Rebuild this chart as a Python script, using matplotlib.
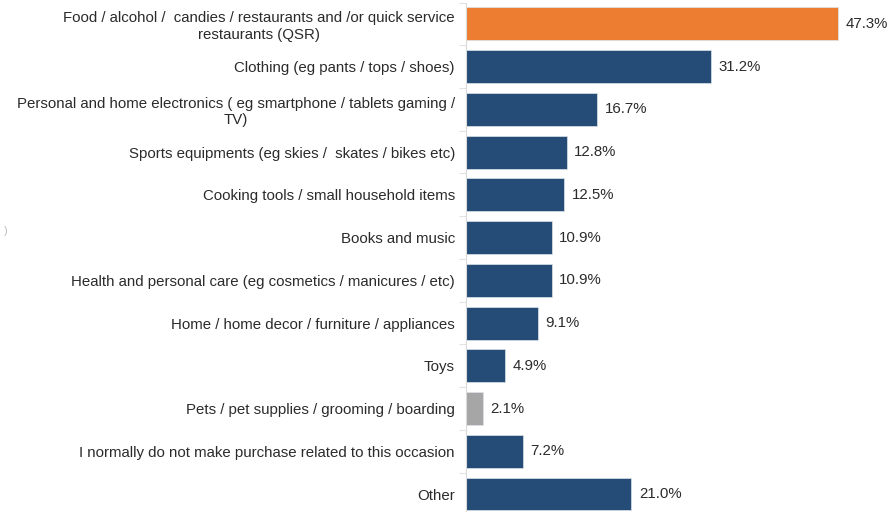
import numpy as np
import matplotlib.pyplot as plt

plt.rcParams['font.family'] = ['Liberation Sans', 'DejaVu Sans']

# kategorier och andel svarande (%)
kategorier = [
    'Food / alcohol /  candies / restaurants and /or quick service\nrestaurants (QSR)',
    'Clothing (eg pants / tops / shoes)',
    'Personal and home electronics ( eg smartphone / tablets gaming /\nTV)',
    'Sports equipments (eg skies /  skates / bikes etc)',
    'Cooking tools / small household items',
    'Books and music',
    'Health and personal care (eg cosmetics / manicures / etc)',
    'Home / home decor / furniture / appliances',
    'Toys',
    'Pets / pet supplies / grooming / boarding',
    'I normally do not make purchase related to this occasion',
    'Other',
]
andel = [47.3, 31.2, 16.7, 12.8, 12.5, 10.9, 10.9, 9.1, 4.9, 2.1, 7.2, 21.0]

BLA = '#244C77'
ORANGE = '#ED7D31'
GRA = '#A6A6A6'
farger = [BLA] * len(andel)
farger[0] = ORANGE
farger[9] = GRA

fig = plt.figure(figsize=(8.89, 5.12), dpi=100)
ax = fig.add_axes([466/889, -0.0066, 1 - 466/889, 1.0016])

y = np.arange(len(andel))
ax.barh(y, andel, height=0.77, color=farger, edgecolor='#DDE3EA', linewidth=0.5)

# värdeetiketter till höger om staplarna
for yi, v in zip(y, andel):
    ax.annotate(f'{v:.1f}%', (v, yi), xytext=(5.5, 0), textcoords='offset points',
                va='center', ha='left', fontsize=10.8, color='#2B2B2B')

ax.set_ylim(len(andel) - 0.5, -0.5)
ax.set_xlim(0, 53.8)

ax.set_yticks(y)
ax.set_yticklabels(kategorier, fontsize=10.8, color='#2B2B2B', multialignment='center')
ax.tick_params(axis='y', which='major', length=0, pad=8)
ax.set_yticks(np.arange(-0.5, len(andel), 1), minor=True)
ax.tick_params(axis='y', which='minor', length=5, color='#E3E3E3', width=0.8)
ax.set_xticks([])

for s in ['top', 'right', 'bottom']:
    ax.spines[s].set_visible(False)
ax.spines['left'].set_color('#DADADA')
ax.spines['left'].set_linewidth(0.8)

fig.text(0.004, 0.548, ')', fontsize=8, color='#BFBFBF', va='center')

fig.savefig('out.png', dpi=100)
